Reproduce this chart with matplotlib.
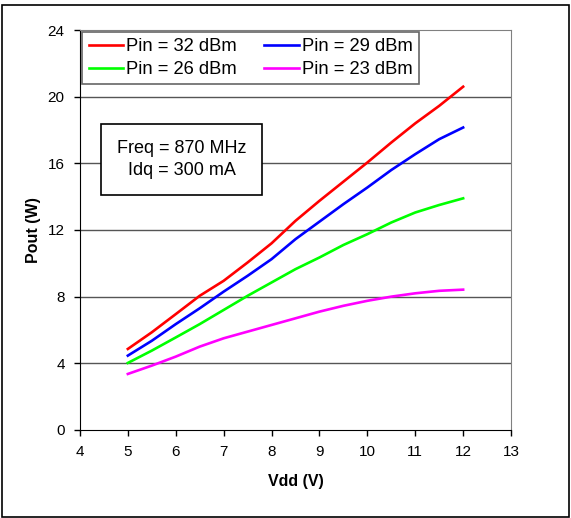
import matplotlib
matplotlib.use("Agg")
import matplotlib.pyplot as plt
from matplotlib.patches import Rectangle

plt.rcParams['font.family'] = ['Liberation Sans', 'DejaVu Sans']

vdd = [5, 5.5, 6, 6.5, 7, 7.5, 8, 8.5, 9, 9.5, 10, 10.5, 11, 11.5, 12]
pin32 = [4.86, 5.86, 6.95, 8.05, 8.95, 10.05, 11.2, 12.55, 13.75, 14.9, 16.05, 17.25, 18.4, 19.45, 20.6]
pin29 = [4.46, 5.35, 6.35, 7.3, 8.3, 9.25, 10.25, 11.45, 12.5, 13.55, 14.55, 15.6, 16.55, 17.45, 18.15]
pin26 = [4.02, 4.76, 5.55, 6.35, 7.2, 8.05, 8.85, 9.65, 10.35, 11.1, 11.75, 12.45, 13.05, 13.5, 13.9]
pin23 = [3.36, 3.86, 4.4, 5.0, 5.5, 5.9, 6.3, 6.7, 7.1, 7.45, 7.75, 8.0, 8.2, 8.35, 8.42]

series = [
    ("Pin = 32 dBm", pin32, "#ff0000"),
    ("Pin = 29 dBm", pin29, "#0000ff"),
    ("Pin = 26 dBm", pin26, "#00ff00"),
    ("Pin = 23 dBm", pin23, "#ff00ff"),
]

fig = plt.figure(figsize=(5.71, 5.18), dpi=100)
ax = fig.add_axes([0.140, 0.170, 0.755, 0.772])

lines = {}
for label, vals, color in series:
    lines[label], = ax.plot(vdd, vals, color=color, lw=1.9, label=label)

ax.set_xlim(4, 13)
ax.set_ylim(0, 24)
ax.set_xticks(range(4, 14))
ax.set_yticks(range(0, 25, 4))
for y in range(4, 24, 4):
    ax.axhline(y, color="#555555", lw=1.0, zorder=0)

ax.spines['top'].set_color("#808080")
ax.spines['right'].set_color("#808080")
ax.spines['left'].set_color("black")
ax.spines['bottom'].set_color("black")
ax.tick_params(direction='out', length=4, width=1, labelsize=11, colors='black', pad=7)

ax.set_xlabel("Vdd (V)", fontsize=11.5, fontweight='bold', labelpad=11)
ax.set_ylabel("Pout (W)", fontsize=11.5, fontweight='bold')
ax.yaxis.set_label_coords(-0.09, 0.5)

# legend fills row by row in the reference: 32, 29 / 26, 23
order = ["Pin = 32 dBm", "Pin = 26 dBm", "Pin = 29 dBm", "Pin = 23 dBm"]
leg = ax.legend([lines[k] for k in order], order, ncol=2, loc='upper left',
                bbox_to_anchor=(0.005, 0.995), fontsize=13.2, frameon=True,
                fancybox=False, borderaxespad=0, handlelength=1.9,
                handletextpad=0.15, columnspacing=1.5, labelspacing=0.3,
                borderpad=0.35)
leg.get_frame().set_edgecolor("#404040")
leg.get_frame().set_linewidth(1.2)

ax.text(6.12, 16.23, "Freq = 870 MHz\nIdq = 300 mA", fontsize=13,
        ha='center', va='center', multialignment='center', linespacing=1.45,
        bbox=dict(boxstyle='square,pad=0.85', fc='white', ec='black', lw=1.2))

fig.patches.append(Rectangle((0.004, 0.002), 0.992, 0.988, transform=fig.transFigure,
                             fill=False, ec='black', lw=1.2))

fig.savefig("out.png", dpi=100)
